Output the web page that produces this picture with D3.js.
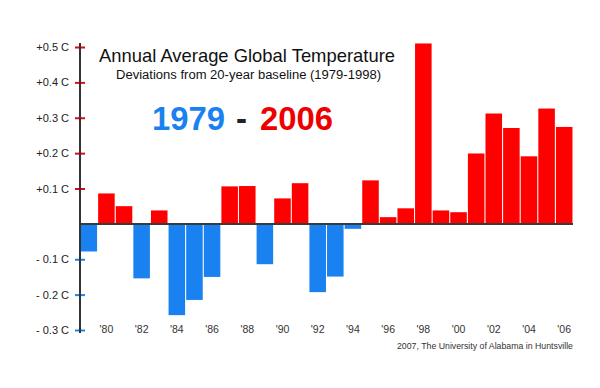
<!DOCTYPE html>
<html><head><meta charset="utf-8">
<script src="https://cdn.jsdelivr.net/npm/d3@7"></script>
<style>body{margin:0;background:#fff}svg{display:block}</style>
</head><body>
<svg id="c" width="600" height="388"></svg>
<script>
const years = d3.range(1979, 2007);
const anomalies = [-0.078, 0.086, 0.050, -0.154, 0.038, -0.258, -0.215, -0.150, 0.106, 0.107,
  -0.114, 0.072, 0.115, -0.193, -0.149, -0.014, 0.123, 0.019, 0.044, 0.510,
  0.038, 0.033, 0.199, 0.312, 0.271, 0.191, 0.326, 0.274];
const yTicks = [0.5, 0.4, 0.3, 0.2, 0.1, -0.1, -0.2, -0.3];
const yTickLabels = ["+0.5 C", "+0.4 C", "+0.3 C", "+0.2 C", "+0.1 C", "- 0.1 C", "- 0.2 C", "- 0.3 C"];
const xTickYears = d3.range(1980, 2007, 2);

const RED = "#ff0000", BLUE = "#1a82f0";
const svg = d3.select("#c");
const x = d3.scaleBand().domain(years).range([80, 573]).paddingInner(0.06).paddingOuter(0.03);
const y = d3.scaleLinear().domain([-0.3, 0.5]).range([330, 47]);

// bars
svg.append("g").selectAll("rect").data(years).join("rect")
  .attr("x", d => x(d))
  .attr("width", x.bandwidth())
  .attr("y", (d, i) => Math.min(y(anomalies[i]), y(0)))
  .attr("height", (d, i) => Math.abs(y(anomalies[i]) - y(0)))
  .attr("fill", (d, i) => anomalies[i] >= 0 ? RED : BLUE);

// zero line
svg.append("line").attr("x1", 80).attr("x2", 573).attr("y1", y(0)).attr("y2", y(0))
  .attr("stroke", "#3a3a3a").attr("stroke-width", 2);

// y axis
const yAxis = d3.axisLeft(y).tickValues(yTicks).tickSizeInner(5).tickSizeOuter(0)
  .tickFormat((d, i) => yTickLabels[i]).tickPadding(6);
const gy = svg.append("g").attr("transform", "translate(80,0)").call(yAxis);
gy.select(".domain").remove();
gy.selectAll(".tick line").attr("x1", -5).attr("x2", 5).attr("stroke-width", 2)
  .attr("stroke", d => d > 0 ? "#e8001c" : BLUE);
gy.selectAll(".tick text").attr("font-family", "Arial, 'Liberation Sans', sans-serif")
  .attr("font-size", 11).attr("fill", "#222").attr("x", -11);
svg.append("line").attr("x1", 80).attr("x2", 80).attr("y1", 43).attr("y2", 333)
  .attr("stroke", "#333").attr("stroke-width", 2);

// x labels
const xAxis = d3.axisBottom(x).tickValues(xTickYears).tickSize(0)
  .tickFormat(d => "'" + String(d).slice(2));
const gx = svg.append("g").attr("transform", "translate(0,323)").call(xAxis);
gx.select(".domain").remove();
gx.selectAll(".tick text").attr("font-family", "'Liberation Sans Narrow', Arial, sans-serif")
  .attr("font-size", 10.5).attr("fill", "#333").attr("dy", "0.71em");

// titles
const ff = "'Liberation Sans Narrow', Arial, sans-serif";
svg.append("text").attr("x", 99).attr("y", 62).attr("font-family", ff).attr("font-size", 19)
  .attr("fill", "#111").attr("textLength", 296).attr("lengthAdjust", "spacingAndGlyphs")
  .text("Annual Average Global Temperature");
svg.append("text").attr("x", 116).attr("y", 78.5).attr("font-family", ff).attr("font-size", 12)
  .attr("fill", "#111").attr("textLength", 265).attr("lengthAdjust", "spacingAndGlyphs")
  .text("Deviations from 20-year baseline (1979-1998)");
const big = svg.append("text").attr("y", 130).attr("font-family", "Arial, 'Liberation Sans', sans-serif")
  .attr("font-size", 33).attr("font-weight", "bold");
big.append("tspan").attr("x", 152).attr("fill", BLUE).attr("textLength", 73).attr("lengthAdjust", "spacingAndGlyphs").text("1979");
big.append("tspan").attr("x", 236).attr("fill", "#222").text("-");
big.append("tspan").attr("x", 260).attr("fill", "#ee0000").attr("textLength", 73).attr("lengthAdjust", "spacingAndGlyphs").text("2006");

// credit
svg.append("text").attr("x", 397).attr("y", 348.5).attr("font-family", ff).attr("font-size", 9)
  .attr("fill", "#333").attr("textLength", 176).attr("lengthAdjust", "spacingAndGlyphs")
  .text("2007, The University of Alabama in Huntsville");
</script>
</body></html>
